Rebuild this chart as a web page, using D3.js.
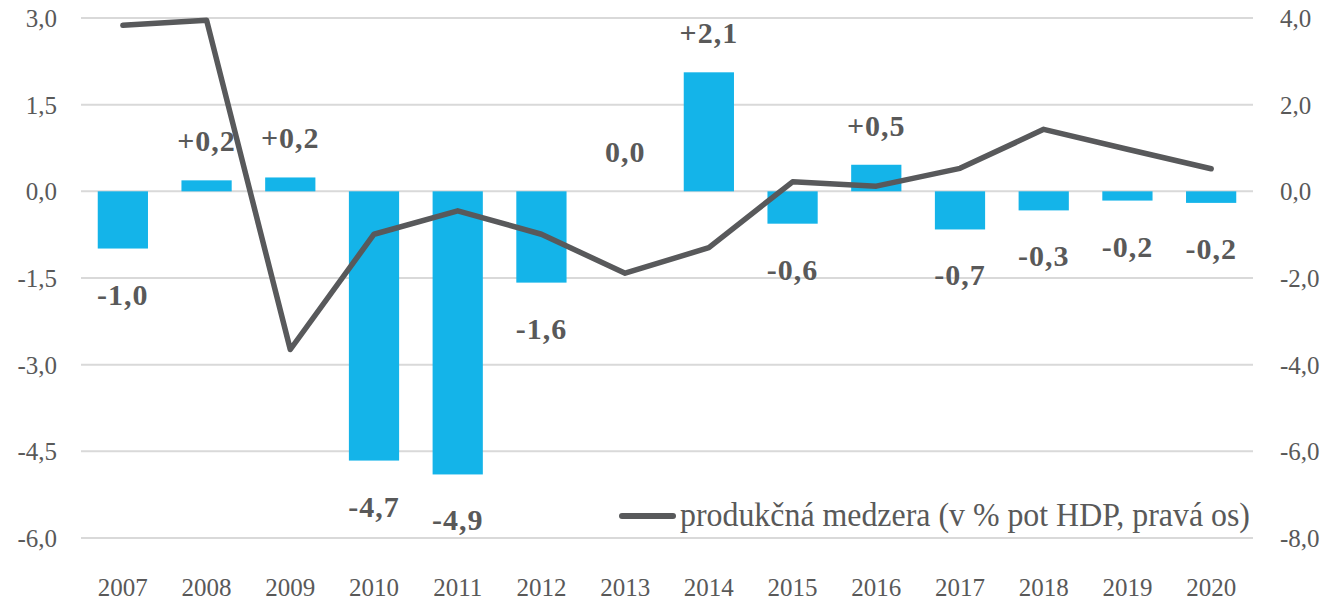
<!DOCTYPE html>
<html lang="sk">
<head>
  <meta charset="UTF-8" />
  <title>Produkčná medzera</title>
  <script src="https://cdn.jsdelivr.net/npm/d3@7"></script>
  <style>
    html, body { margin: 0; padding: 0; background: #fff; overflow: hidden; }
    svg { display: block; }
    text { font-family: "Liberation Serif", "DejaVu Serif", serif; fill: #595959; }
  </style>
</head>
<body>
  <script>
    // Data
    const years = ["2007", "2008", "2009", "2010", "2011", "2012", "2013",
                   "2014", "2015", "2016", "2017", "2018", "2019", "2020"];
    // bars (left axis)
    const barValues = [-0.99, 0.19, 0.24, -4.66, -4.9, -1.58, 0.0,
                       2.06, -0.56, 0.46, -0.66, -0.33, -0.16, -0.2];
    // produkčná medzera (right axis)
    const gapValues = [3.83, 3.95, -3.65, -0.99, -0.45, -0.99, -1.89,
                       -1.3, 0.22, 0.12, 0.53, 1.43, 0.97, 0.52];
    const leftTicks = [-6, -4.5, -3, -1.5, 0, 1.5, 3];
    const rightTicks = [-8, -6, -4, -2, 0, 2, 4];
    const legendLabel = "produkčná medzera (v % pot HDP, pravá os)";

    const width = 1327, height = 602;
    const margin = { top: 18, right: 75, bottom: 64, left: 81 };

    const svg = d3.select("body").append("svg")
      .attr("width", width)
      .attr("height", height);

    const x = d3.scaleBand()
      .domain(years)
      .range([margin.left, width - margin.right + 1])
      .paddingInner(0.4)
      .paddingOuter(0.2);

    const yL = d3.scaleLinear().domain([-6, 3]).range([height - margin.bottom, margin.top]);
    const yR = d3.scaleLinear().domain([-8, 4]).range([height - margin.bottom, margin.top]);

    const comma = v => v.toFixed(1).replace(".", ",").replace("-0,0", "0,0");
    const signed = v => (v > 0.0001 ? "+" : "") + comma(v);

    // gridlines
    svg.append("g")
      .selectAll("line")
      .data(leftTicks)
      .join("line")
        .attr("x1", margin.left)
        .attr("x2", width - margin.right + 1)
        .attr("y1", d => yL(d))
        .attr("y2", d => yL(d))
        .attr("stroke", "#d9d9d9")
        .attr("stroke-width", 2);

    // left axis labels
    svg.append("g")
      .selectAll("text")
      .data(leftTicks)
      .join("text")
        .attr("x", 57)
        .attr("y", d => yL(d) + 9)
        .attr("text-anchor", "end")
        .attr("font-size", 25)
        .text(d => comma(d));

    // right axis labels
    svg.append("g")
      .selectAll("text")
      .data(rightTicks)
      .join("text")
        .attr("x", 1280)
        .attr("y", d => yR(d) + 9)
        .attr("font-size", 25)
        .text(d => comma(d));

    // year labels
    svg.append("g")
      .selectAll("text")
      .data(years)
      .join("text")
        .attr("x", d => x(d) + x.bandwidth() / 2)
        .attr("y", 596)
        .attr("text-anchor", "middle")
        .attr("font-size", 25)
        .text(d => d);

    // bars
    const rows = years.map((y, i) => ({ year: y, bar: barValues[i], gap: gapValues[i] }));
    svg.append("g")
      .selectAll("rect")
      .data(rows)
      .join("rect")
        .attr("x", d => x(d.year))
        .attr("width", x.bandwidth())
        .attr("y", d => yL(Math.max(0, d.bar)))
        .attr("height", d => Math.abs(yL(d.bar) - yL(0)))
        .attr("fill", "#14b4e9");

    // line
    const line = d3.line()
      .x(d => x(d.year) + x.bandwidth() / 2)
      .y(d => yR(d.gap));
    svg.append("path")
      .datum(rows)
      .attr("d", line)
      .attr("fill", "none")
      .attr("stroke", "#58595b")
      .attr("stroke-width", 5.5)
      .attr("stroke-linejoin", "round")
      .attr("stroke-linecap", "round");

    // data labels
    svg.append("g")
      .selectAll("text")
      .data(rows)
      .join("text")
        .attr("x", d => x(d.year) + x.bandwidth() / 2)
        .attr("y", d => d.bar >= 0 ? yL(d.bar) - 29 : yL(d.bar) + 56)
        .attr("text-anchor", "middle")
        .attr("font-size", 30)
        .attr("font-weight", "bold")
        .attr("letter-spacing", 1)
        .text(d => signed(d.bar));

    // legend
    const legend = svg.append("g");
    legend.append("line")
      .attr("x1", 622).attr("x2", 673)
      .attr("y1", 516).attr("y2", 516)
      .attr("stroke", "#58595b")
      .attr("stroke-width", 6)
      .attr("stroke-linecap", "round");
    legend.append("text")
      .attr("x", 680)
      .attr("y", 526)
      .attr("font-size", 34)
      .attr("textLength", 570)
      .attr("lengthAdjust", "spacingAndGlyphs")
      .text(legendLabel);
  </script>
</body>
</html>
